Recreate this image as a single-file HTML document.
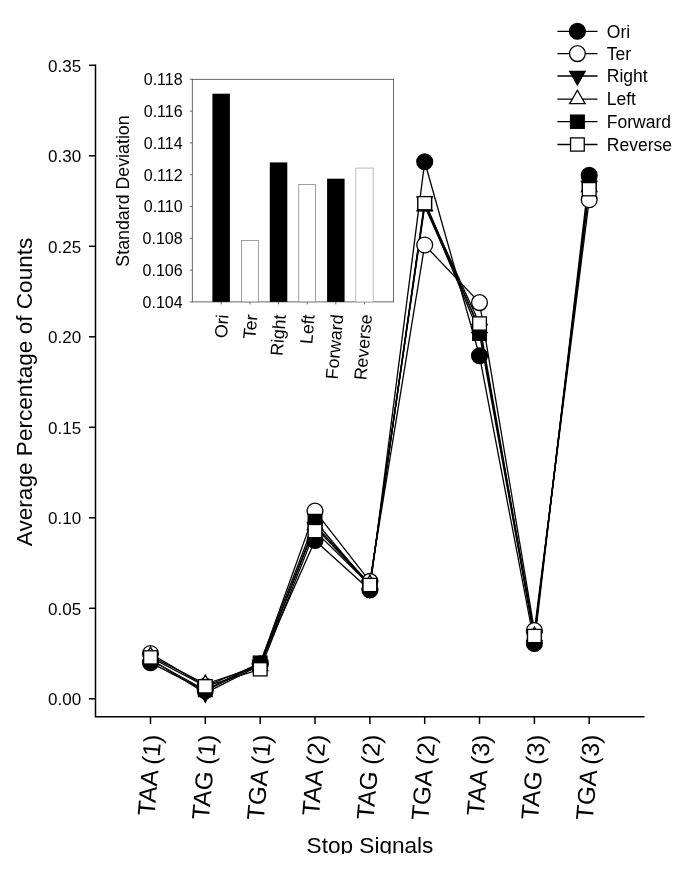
<!DOCTYPE html>
<html><head><meta charset="utf-8"><title>chart</title>
<style>
html,body{margin:0;padding:0;background:#fff;}
body{width:685px;height:870px;overflow:hidden;}
svg{display:block;font-family:"Liberation Sans",sans-serif;fill:#000;will-change:transform;}
</style></head><body>
<svg width="685" height="870" viewBox="0 0 685 870">
<rect x="0" y="0" width="685" height="870" fill="#fff"/>

<g stroke="#000" stroke-width="1.5" fill="none" stroke-linecap="butt">
<path d="M95.5 64.5V716.8H644.5"/>
<path d="M89 698.8H95.5"/>
<path d="M89 608.3H95.5"/>
<path d="M89 517.8H95.5"/>
<path d="M89 427.3H95.5"/>
<path d="M89 336.8H95.5"/>
<path d="M89 246.3H95.5"/>
<path d="M89 155.8H95.5"/>
<path d="M89 65.3H95.5"/>
<path d="M150.5 716.8V724"/>
<path d="M205.3 716.8V724"/>
<path d="M260.2 716.8V724"/>
<path d="M315.0 716.8V724"/>
<path d="M369.9 716.8V724"/>
<path d="M424.7 716.8V724"/>
<path d="M479.5 716.8V724"/>
<path d="M534.4 716.8V724"/>
<path d="M589.2 716.8V724"/>
</g>
<g font-size="17" text-anchor="end">
<text x="81.2" y="705.0">0.00</text>
<text x="81.2" y="614.5">0.05</text>
<text x="81.2" y="524.0">0.10</text>
<text x="81.2" y="433.5">0.15</text>
<text x="81.2" y="343.0">0.20</text>
<text x="81.2" y="252.5">0.25</text>
<text x="81.2" y="162.0">0.30</text>
<text x="81.2" y="71.5">0.35</text>
</g>
<g font-size="24.5" text-anchor="end">
<text transform="translate(161.5 735.3) rotate(-85)">TAA (1)</text>
<text transform="translate(216.3 735.3) rotate(-85)">TAG (1)</text>
<text transform="translate(271.2 735.3) rotate(-85)">TGA (1)</text>
<text transform="translate(326.0 735.3) rotate(-85)">TAA (2)</text>
<text transform="translate(380.9 735.3) rotate(-85)">TAG (2)</text>
<text transform="translate(435.7 735.3) rotate(-85)">TGA (2)</text>
<text transform="translate(490.5 735.3) rotate(-85)">TAA (3)</text>
<text transform="translate(545.4 735.3) rotate(-85)">TAG (3)</text>
<text transform="translate(600.2 735.3) rotate(-85)">TGA (3)</text>
</g>
<text font-size="22.6" text-anchor="middle" transform="translate(32.3 391.9) rotate(-90)">Average Percentage of Counts</text>
<text font-size="22.6" text-anchor="middle" x="370" y="853.3">Stop Signals</text>
<rect x="280" y="854" width="200" height="16" fill="#fff"/>
<g stroke="#444" stroke-width="0.8" fill="none">
<rect x="192.3" y="79.3" width="201.3" height="222.6"/>
<path d="M189.8 301.9H192.3"/>
<path d="M189.8 270.1H192.3"/>
<path d="M189.8 238.3H192.3"/>
<path d="M189.8 206.5H192.3"/>
<path d="M189.8 174.7H192.3"/>
<path d="M189.8 142.9H192.3"/>
<path d="M189.8 111.1H192.3"/>
<path d="M189.8 79.3H192.3"/>
<path d="M221.2 301.9V304.4"/>
<path d="M249.9 301.9V304.4"/>
<path d="M278.5 301.9V304.4"/>
<path d="M307.2 301.9V304.4"/>
<path d="M335.8 301.9V304.4"/>
<path d="M364.5 301.9V304.4"/>
</g>
<rect x="212.4" y="93.7" width="17.5" height="208.2" fill="#000"/>
<rect x="241.5" y="240.5" width="16.8" height="61.4" fill="#fff" stroke="#777" stroke-width="0.7"/>
<rect x="269.8" y="162.4" width="17.5" height="139.5" fill="#000"/>
<rect x="298.8" y="184.4" width="16.8" height="117.5" fill="#fff" stroke="#777" stroke-width="0.7"/>
<rect x="327.1" y="178.7" width="17.5" height="123.2" fill="#000"/>
<rect x="355.8" y="168.10000000000002" width="17.4" height="133.8" fill="#fff" stroke="#b4b4b4" stroke-width="0.9"/>
<g font-size="16" text-anchor="end">
<text x="182.6" y="307.7">0.104</text>
<text x="182.6" y="275.9">0.106</text>
<text x="182.6" y="244.1">0.108</text>
<text x="182.6" y="212.3">0.110</text>
<text x="182.6" y="180.5">0.112</text>
<text x="182.6" y="148.7">0.114</text>
<text x="182.6" y="116.9">0.116</text>
<text x="182.6" y="85.1">0.118</text>
</g>
<g font-size="17.7" text-anchor="end">
<text transform="translate(228.7 315) rotate(-85)">Ori</text>
<text transform="translate(257.4 315) rotate(-85)">Ter</text>
<text transform="translate(286.0 315) rotate(-85)">Right</text>
<text transform="translate(314.7 315) rotate(-85)">Left</text>
<text transform="translate(343.3 315) rotate(-85)">Forward</text>
<text transform="translate(372.0 315) rotate(-85)">Reverse</text>
</g>
<text font-size="17.8" text-anchor="middle" transform="translate(128.8 191) rotate(-90)">Standard Deviation</text>
<polyline points="150.5,662.7 205.3,690.8 260.2,664.0 315.0,540.5 369.9,590.0 424.7,161.8 479.5,355.8 534.4,643.5 589.2,175.4" fill="none" stroke="#000" stroke-width="1.3" stroke-linejoin="round"/>
<polyline points="150.5,653.5 205.3,686.0 260.2,664.0 315.0,511.1 369.9,581.4 424.7,245.0 479.5,302.6 534.4,630.6 589.2,199.8" fill="none" stroke="#000" stroke-width="1.3" stroke-linejoin="round"/>
<polyline points="150.5,659.0 205.3,693.2 260.2,665.0 315.0,527.0 369.9,585.0 424.7,201.5 479.5,329.0 534.4,637.0 589.2,186.0" fill="none" stroke="#000" stroke-width="1.3" stroke-linejoin="round"/>
<polyline points="150.5,655.9 205.3,684.0 260.2,666.0 315.0,525.0 369.9,584.0 424.7,206.3 479.5,328.0 534.4,636.0 589.2,187.0" fill="none" stroke="#000" stroke-width="1.3" stroke-linejoin="round"/>
<polyline points="150.5,660.0 205.3,690.0 260.2,662.7 315.0,521.0 369.9,586.0 424.7,204.0 479.5,333.7 534.4,638.0 589.2,183.0" fill="none" stroke="#000" stroke-width="1.3" stroke-linejoin="round"/>
<polyline points="150.5,657.4 205.3,686.3 260.2,669.3 315.0,531.1 369.9,585.0 424.7,203.2 479.5,323.5 534.4,636.0 589.2,189.2" fill="none" stroke="#000" stroke-width="1.3" stroke-linejoin="round"/>
<circle cx="150.5" cy="662.7" r="7.9" fill="#000" stroke="#000" stroke-width="1.3"/>
<circle cx="205.3" cy="690.8" r="7.9" fill="#000" stroke="#000" stroke-width="1.3"/>
<circle cx="260.2" cy="664.0" r="7.9" fill="#000" stroke="#000" stroke-width="1.3"/>
<circle cx="315.0" cy="540.5" r="7.9" fill="#000" stroke="#000" stroke-width="1.3"/>
<circle cx="369.9" cy="590.0" r="7.9" fill="#000" stroke="#000" stroke-width="1.3"/>
<circle cx="424.7" cy="161.8" r="7.9" fill="#000" stroke="#000" stroke-width="1.3"/>
<circle cx="479.5" cy="355.8" r="7.9" fill="#000" stroke="#000" stroke-width="1.3"/>
<circle cx="534.4" cy="643.5" r="7.9" fill="#000" stroke="#000" stroke-width="1.3"/>
<circle cx="589.2" cy="175.4" r="7.9" fill="#000" stroke="#000" stroke-width="1.3"/>
<circle cx="150.5" cy="653.5" r="7.9" fill="#fff" stroke="#000" stroke-width="1.3"/>
<circle cx="205.3" cy="686.0" r="7.9" fill="#fff" stroke="#000" stroke-width="1.3"/>
<circle cx="260.2" cy="664.0" r="7.9" fill="#fff" stroke="#000" stroke-width="1.3"/>
<circle cx="315.0" cy="511.1" r="7.9" fill="#fff" stroke="#000" stroke-width="1.3"/>
<circle cx="369.9" cy="581.4" r="7.9" fill="#fff" stroke="#000" stroke-width="1.3"/>
<circle cx="424.7" cy="245.0" r="7.9" fill="#fff" stroke="#000" stroke-width="1.3"/>
<circle cx="479.5" cy="302.6" r="7.9" fill="#fff" stroke="#000" stroke-width="1.3"/>
<circle cx="534.4" cy="630.6" r="7.9" fill="#fff" stroke="#000" stroke-width="1.3"/>
<circle cx="589.2" cy="199.8" r="7.9" fill="#fff" stroke="#000" stroke-width="1.3"/>
<path d="M142.8 654.5H158.2L150.5 667.9Z" fill="#000" stroke="#000" stroke-width="1.3" stroke-linejoin="miter"/>
<path d="M197.6 688.7H213.0L205.3 702.1Z" fill="#000" stroke="#000" stroke-width="1.3" stroke-linejoin="miter"/>
<path d="M252.5 660.5H267.9L260.2 673.9Z" fill="#000" stroke="#000" stroke-width="1.3" stroke-linejoin="miter"/>
<path d="M307.3 522.5H322.7L315.0 535.9Z" fill="#000" stroke="#000" stroke-width="1.3" stroke-linejoin="miter"/>
<path d="M362.2 580.5H377.6L369.9 593.9Z" fill="#000" stroke="#000" stroke-width="1.3" stroke-linejoin="miter"/>
<path d="M417.0 197.0H432.4L424.7 210.4Z" fill="#000" stroke="#000" stroke-width="1.3" stroke-linejoin="miter"/>
<path d="M471.8 324.5H487.2L479.5 337.9Z" fill="#000" stroke="#000" stroke-width="1.3" stroke-linejoin="miter"/>
<path d="M526.7 632.5H542.1L534.4 645.9Z" fill="#000" stroke="#000" stroke-width="1.3" stroke-linejoin="miter"/>
<path d="M581.5 181.5H596.9L589.2 194.9Z" fill="#000" stroke="#000" stroke-width="1.3" stroke-linejoin="miter"/>
<path d="M142.8 660.4H158.2L150.5 647.0Z" fill="#fff" stroke="#000" stroke-width="1.3" stroke-linejoin="miter"/>
<path d="M197.6 688.5H213.0L205.3 675.1Z" fill="#fff" stroke="#000" stroke-width="1.3" stroke-linejoin="miter"/>
<path d="M252.5 670.5H267.9L260.2 657.1Z" fill="#fff" stroke="#000" stroke-width="1.3" stroke-linejoin="miter"/>
<path d="M307.3 529.5H322.7L315.0 516.1Z" fill="#fff" stroke="#000" stroke-width="1.3" stroke-linejoin="miter"/>
<path d="M362.2 588.5H377.6L369.9 575.1Z" fill="#fff" stroke="#000" stroke-width="1.3" stroke-linejoin="miter"/>
<path d="M417.0 210.8H432.4L424.7 197.4Z" fill="#fff" stroke="#000" stroke-width="1.3" stroke-linejoin="miter"/>
<path d="M471.8 332.5H487.2L479.5 319.1Z" fill="#fff" stroke="#000" stroke-width="1.3" stroke-linejoin="miter"/>
<path d="M526.7 640.5H542.1L534.4 627.1Z" fill="#fff" stroke="#000" stroke-width="1.3" stroke-linejoin="miter"/>
<path d="M581.5 191.5H596.9L589.2 178.1Z" fill="#fff" stroke="#000" stroke-width="1.3" stroke-linejoin="miter"/>
<rect x="143.65" y="653.40" width="13.7" height="13.2" fill="#000" stroke="#000" stroke-width="1.3"/>
<rect x="198.49" y="683.40" width="13.7" height="13.2" fill="#000" stroke="#000" stroke-width="1.3"/>
<rect x="253.33" y="656.10" width="13.7" height="13.2" fill="#000" stroke="#000" stroke-width="1.3"/>
<rect x="308.17" y="514.40" width="13.7" height="13.2" fill="#000" stroke="#000" stroke-width="1.3"/>
<rect x="363.01" y="579.40" width="13.7" height="13.2" fill="#000" stroke="#000" stroke-width="1.3"/>
<rect x="417.85" y="197.40" width="13.7" height="13.2" fill="#000" stroke="#000" stroke-width="1.3"/>
<rect x="472.69" y="327.10" width="13.7" height="13.2" fill="#000" stroke="#000" stroke-width="1.3"/>
<rect x="527.53" y="631.40" width="13.7" height="13.2" fill="#000" stroke="#000" stroke-width="1.3"/>
<rect x="582.37" y="176.40" width="13.7" height="13.2" fill="#000" stroke="#000" stroke-width="1.3"/>
<rect x="143.65" y="650.80" width="13.7" height="13.2" fill="#fff" stroke="#000" stroke-width="1.3"/>
<rect x="198.49" y="679.70" width="13.7" height="13.2" fill="#fff" stroke="#000" stroke-width="1.3"/>
<rect x="253.33" y="662.70" width="13.7" height="13.2" fill="#fff" stroke="#000" stroke-width="1.3"/>
<rect x="308.17" y="524.50" width="13.7" height="13.2" fill="#fff" stroke="#000" stroke-width="1.3"/>
<rect x="363.01" y="578.40" width="13.7" height="13.2" fill="#fff" stroke="#000" stroke-width="1.3"/>
<rect x="417.85" y="196.60" width="13.7" height="13.2" fill="#fff" stroke="#000" stroke-width="1.3"/>
<rect x="472.69" y="316.90" width="13.7" height="13.2" fill="#fff" stroke="#000" stroke-width="1.3"/>
<rect x="527.53" y="629.40" width="13.7" height="13.2" fill="#fff" stroke="#000" stroke-width="1.3"/>
<rect x="582.37" y="182.60" width="13.7" height="13.2" fill="#fff" stroke="#000" stroke-width="1.3"/>
<path d="M557.4 31.3H597.5" stroke="#000" stroke-width="1.3"/>
<circle cx="577.4" cy="31.3" r="7.9" fill="#000" stroke="#000" stroke-width="1.3"/>
<text font-size="17.5" x="606.8" y="37.6">Ori</text>
<path d="M557.4 53.6H597.5" stroke="#000" stroke-width="1.3"/>
<circle cx="577.4" cy="53.6" r="7.9" fill="#fff" stroke="#000" stroke-width="1.3"/>
<text font-size="17.5" x="606.8" y="59.9">Ter</text>
<path d="M557.4 76.0H597.5" stroke="#000" stroke-width="1.3"/>
<path d="M569.7 71.5H585.1L577.4 84.9Z" fill="#000" stroke="#000" stroke-width="1.3" stroke-linejoin="miter"/>
<text font-size="17.5" x="606.8" y="82.3">Right</text>
<path d="M557.4 99.1H597.5" stroke="#000" stroke-width="1.3"/>
<path d="M569.7 103.6H585.1L577.4 90.2Z" fill="#fff" stroke="#000" stroke-width="1.3" stroke-linejoin="miter"/>
<text font-size="17.5" x="606.8" y="105.4">Left</text>
<path d="M557.4 121.7H597.5" stroke="#000" stroke-width="1.3"/>
<rect x="570.55" y="115.10" width="13.7" height="13.2" fill="#000" stroke="#000" stroke-width="1.3"/>
<text font-size="17.5" x="606.8" y="128.0">Forward</text>
<path d="M557.4 144.5H597.5" stroke="#000" stroke-width="1.3"/>
<rect x="570.55" y="137.90" width="13.7" height="13.2" fill="#fff" stroke="#000" stroke-width="1.3"/>
<text font-size="17.5" x="606.8" y="150.8">Reverse</text>
</svg></body></html>
